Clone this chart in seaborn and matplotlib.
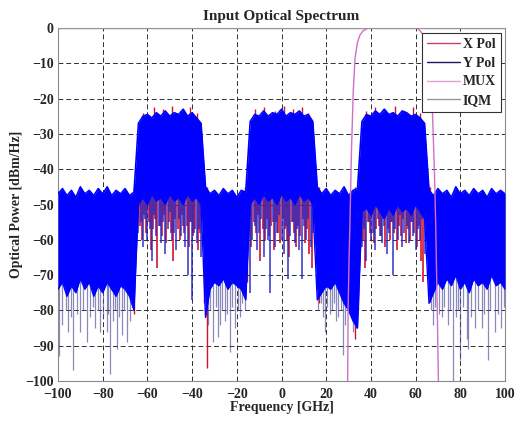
import numpy as np
import pandas as pd
import matplotlib
matplotlib.use("Agg")
import matplotlib.pyplot as plt
import seaborn as sns
from matplotlib.lines import Line2D

# ---------------- data ----------------
env_freq = np.arange(-100, 101, 2)
env_top = [-47, -45.5, -47.5, -46, -48, -45, -47, -46, -47.5, -45.5,
           -47, -45, -47.5, -46, -47, -45.5, -47.5, -46.5, -27, -25,
           -24.5, -25.5, -24, -25, -23.5, -25, -24, -24.5, -23, -25,
           -24, -25.5, -27, -45, -47, -46, -47.5, -45.5, -47, -46,
           -48, -46, -46.5, -26.5, -24.5, -25, -23.5, -25, -24, -24.5,
           -23, -25, -24, -24.5, -23.5, -25, -24.5, -26.5, -45, -47,
           -45.5, -47.5, -46, -47, -45, -47.5, -46, -45.5, -26.5, -24.5,
           -25, -23.5, -24.5, -23, -24.5, -24, -25, -23.5, -24, -25,
           -24.5, -25.5, -27, -46, -47.5, -45.5, -47, -46, -48, -45,
           -47, -46, -47.5, -45.5, -47, -46, -48, -45.5, -47, -46, -47]
env_bottom = [-74, -72, -76, -73, -75, -71, -74, -72, -76, -73,
              -75, -72, -74, -76, -73, -74, -76, -80, -50, -48,
              -50, -47, -49, -48, -50, -47, -49, -48, -50, -47,
              -49, -48, -50, -82, -74, -72, -73, -71, -74, -72,
              -73, -74, -77, -50, -48, -50, -47, -49, -48, -50,
              -47, -49, -48, -50, -47, -49, -48, -50, -77, -75,
              -73, -74, -72, -75, -78, -80, -83, -85, -52, -51,
              -53, -50, -52, -54, -51, -53, -50, -52, -51, -53,
              -50, -52, -54, -78, -75, -72, -74, -71, -73, -70,
              -74, -72, -75, -71, -73, -72, -74, -70, -73, -72, -74]

# fuzzy peaks on the channel tops (X Pol)
peak_freq = [-62, -57, -53, -49, -45, -41, -38, -12, -8, -3, 1, 5, 9, 12,
             38, 42, 46, 51, 55, 59, 62]
peak_power = [-24, -22.5, -23, -22, -23.5, -22.5, -24, -23, -22.5, -23.5, -22,
              -23, -22.5, -24, -23.5, -22.5, -23, -22, -23.5, -22.5, -24]

# deep noise-floor dips (Y Pol)
floor_freq = [-99.5, -98, -96.5, -95.4, -94, -93.1, -91.5, -90.2, -89, -87.2,
              -85.5, -84.5, -83.4, -82, -81.2, -79.8, -78.2, -77.5, -76.7, -75.5,
              -74.5, -73.7, -72.5, -71.5, -70.5, -69.3, -68, -67,
              -33, -32, -30.6, -29.5, -28.4, -27.5, -26.5, -25.3, -24.2, -23,
              -22, -20.8, -19.5, -18.6, -17.5, -16.3,
              16.3, 17.5, 18.5, 19.5, 20.5, 21.5, 22.4, 23.5, 24.5, 25.3,
              26.5, 27.5, 28.5, 31.4, 32.2, 33.5,
              66.8, 67.8, 68.8, 70.5, 71.7, 72.8, 74.4, 75.5, 76.9, 78,
              79.1, 79.9, 81, 82.9, 83.5, 84.8, 86.6, 87.8, 89.6, 90.8,
              92.5, 93.5, 95.5, 96.8, 98.2, 99.4]
floor_power = [-93, -84, -80, -86, -82, -97, -81, -86, -80, -89,
               -82, -79, -85, -80, -86, -82, -86, -81, -98, -83,
               -80, -91, -82, -87, -80, -89, -83, -79,
               -84, -80, -89, -79, -87.5, -84, -80, -83, -81, -91.7,
               -79, -85, -80, -82, -78, -80,
               -80, -78, -82, -86, -79, -81, -80, -78, -83, -82,
               -80, -92.5, -84, -82, -86, -85,
               -80, -84, -79, -81, -82, -79, -84, -80, -100, -82,
               -80, -94, -79, -88, -91, -82, -85, -80, -85, -81,
               -94, -80, -86, -81, -85, -79]

# X Pol dips at channel edges
xedge_freq = [-66.2, -34.5, -33.5, -16.2, -15.5, 15.8, 16.6, 32.9, 34.3, 65.8, 66.4]
xedge_power = [-81, -78, -96.3, -76, -72, -74, -78, -88, -80, -75, -77.5]

# in-channel dips (Y Pol at whole GHz, X Pol at half GHz)
ch1_y_freq = np.arange(-64, -35, 1)
ch1_y = [-58, -55, -62, -54, -60, -57, -66, -53, -59, -56, -61, -55, -64, -57, -52,
         -60, -58, -63, -54, -59, -56, -62, -70, -55, -77, -58, -61, -57, -65]
ch1_x_freq = np.arange(-63.5, -36, 1)
ch1_x = [-56, -60, -53, -58, -55, -63, -57, -54, -68, -56, -59, -53, -61, -55,
         -58, -66, -54, -57, -60, -53, -58, -56, -62, -55, -59, -57, -63, -58]
ch2_y_freq = np.arange(-14, 15, 1)
ch2_y = [-75, -60, -56, -63, -58, -54, -65, -57, -60, -75, -55, -62, -58, -53, -60,
         -64, -56, -71, -59, -55, -61, -57, -63, -71, -56, -60, -54, -62, -58]
ch2_x_freq = np.arange(-13.5, 14, 1)
ch2_x = [-62, -55, -58, -53, -66, -57, -60, -54, -59, -56, -63, -55, -58, -61,
         -54, -57, -60, -65, -55, -58, -62, -56, -59, -54, -61, -57, -64, -68]
ch3_y_freq = np.arange(36, 65, 1)
ch3_y = [-62, -57, -66, -55, -60, -58, -63, -54, -59, -61, -56, -64, -58, -55, -70,
         -57, -60, -53, -62, -58, -56, -61, -55, -59, -63, -57, -60, -54, -64]
ch3_x_freq = np.arange(36.5, 64, 1)
ch3_x = [-60, -68, -55, -58, -53, -61, -57, -56, -59, -54, -62, -57, -60, -55,
         -58, -63, -56, -59, -54, -61, -57, -60, -55, -58, -62, -56, -66, -72]

# MUX filter response
mux_freq = [29.6, 29.8, 30.2, 30.6, 31.3, 32.1, 32.9, 34.0, 35.1, 36.5, 38.8, 45, 50,
            55, 60.5, 62.0, 63.4, 65.0, 66.1, 67.5, 68.4, 69.0, 69.7, 70.2]
mux_power = [-100, -80, -66, -56, -35, -18, -8.5, -4, -2, -0.8, 0, 0, 0,
             0, 0, -0.8, -2, -5, -8.5, -23, -40, -56, -80, -100]
# IQM response (flat)
iqm_freq = [-100, 100]
iqm_power = [0, 0]

x_ticks = [-100, -80, -60, -40, -20, 0, 20, 40, 60, 80, 100]
y_ticks = [0, -10, -20, -30, -40, -50, -60, -70, -80, -90, -100]

# ---------------- style ----------------
sns.set_style("white")
plt.rcParams['font.family'] = ['Liberation Serif', 'DejaVu Serif']
plt.rcParams['font.weight'] = 'bold'

C_X = '#d0102c'
C_Y = '#0000ff'
C_YD = '#4a4a98'
C_YC = '#2424c8'
C_MUX = '#d070c8'
C_IQM = '#9a9a9a'

fig = plt.figure(figsize=(5.16, 4.21), dpi=100)
ax = fig.add_axes([58/516, 1-381/421, 447/516, 353/421])

# X Pol (drawn first, beneath)
ax.vlines(peak_freq, peak_power, -27, color=C_X, lw=1.0, zorder=2.9)
ax.vlines(xedge_freq, xedge_power, -45, color=C_X, lw=1.0, zorder=2)
for fx, px in [(ch1_x_freq, ch1_x), (ch2_x_freq, ch2_x), (ch3_x_freq, ch3_x)]:
    ax.vlines(fx, px, -45, color=C_X, lw=1.3, alpha=0.9, zorder=2)

# Y Pol
ax.vlines(floor_freq, floor_power, -50, color=C_YD, lw=0.9, alpha=0.65, zorder=2.2)
for fy, py in [(ch1_y_freq, ch1_y), (ch2_y_freq, ch2_y), (ch3_y_freq, ch3_y)]:
    ax.vlines(fy, py, -45, color=C_YC, lw=1.3, alpha=0.8, zorder=2.1)
ax.fill_between(env_freq, env_bottom, env_top, color=C_Y, lw=0, zorder=3)
sns.lineplot(x=env_freq, y=env_top, color=C_Y, lw=1.2, ax=ax, zorder=3.1)
sns.lineplot(x=env_freq, y=env_bottom, color=C_Y, lw=1.0, ax=ax, zorder=3.1)

# MUX and IQM filters
sns.lineplot(x=mux_freq, y=mux_power, color=C_MUX, lw=1.0, ax=ax, sort=False, zorder=4)
sns.lineplot(x=iqm_freq, y=iqm_power, color=C_IQM, lw=1.0, ax=ax, zorder=4)

ax.set_xlim(-100, 100)
ax.set_ylim(-100, 0)
ax.set_xticks(x_ticks)
ax.set_yticks(y_ticks)
ax.tick_params(axis='both', labelsize=10, direction='in', length=3,
               color='#555555')
ax.tick_params(axis='x', pad=5)
ax.tick_params(axis='y', pad=3)
for lab in ax.get_xticklabels() + ax.get_yticklabels():
    lab.set_fontweight('bold')
ax.grid(True, color='#303030', linestyle=(0, (5, 3)), lw=0.7, zorder=1)
ax.set_axisbelow(True)
for s in ax.spines.values():
    s.set_color('#8a8a8a')
    s.set_linewidth(0.8)

ax.set_title('Input Optical Spectrum', fontsize=11, fontweight='bold', pad=6)
ax.set_xlabel('Frequency [GHz]', fontsize=10, fontweight='bold', labelpad=0)
ax.set_ylabel('Optical Power [dBm/Hz]', fontsize=10, fontweight='bold', labelpad=2)

handles = [Line2D([], [], color='#c8406a', lw=1.0),
           Line2D([], [], color='#1a1a60', lw=1.0),
           Line2D([], [], color='#e0a0d0', lw=1.0),
           Line2D([], [], color=C_IQM, lw=1.0)]
leg = ax.legend(handles, ['X Pol', 'Y Pol', 'MUX', 'IQM'], loc='upper right',
                bbox_to_anchor=(0.991, 0.986), borderaxespad=0, fancybox=False,
                framealpha=1, edgecolor='#333333', handlelength=2.4,
                handletextpad=0.2, labelspacing=0.42, borderpad=0.35,
                prop={'family': 'Liberation Serif', 'weight': 'bold', 'size': 10})
leg.get_frame().set_linewidth(0.8)
leg.set_zorder(10)

fig.savefig('out.png', dpi=100)
